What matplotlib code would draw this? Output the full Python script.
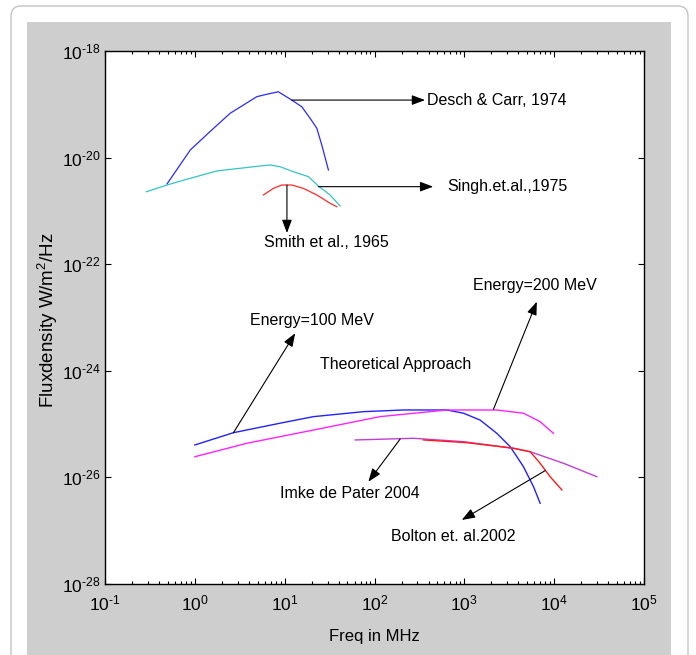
import numpy as np
import matplotlib
matplotlib.use("Agg")
import matplotlib.pyplot as plt
from matplotlib.patches import FancyBboxPatch, Rectangle
from matplotlib.transforms import IdentityTransform
from matplotlib.ticker import FixedLocator, LogLocator, NullLocator, FuncFormatter

plt.rcParams['font.family'] = ['Liberation Sans', 'DejaVu Sans']
plt.rcParams['mathtext.fontset'] = 'custom'
plt.rcParams['mathtext.rm'] = 'Liberation Sans'
plt.rcParams['mathtext.it'] = 'Liberation Sans:italic'
plt.rcParams['mathtext.bf'] = 'Liberation Sans:bold'

# Observed spectra (frequency in MHz, flux density in W/m^2/Hz)
desch_freq = [0.49, 0.89, 1.47, 2.47, 4.9, 6.3, 8.5, 12.0, 15.5, 19.2, 22.8, 25.9, 30.7]
desch_flux = [3.2e-21, 1.39e-20, 3.06e-20, 6.78e-20, 1.39e-19, 1.54e-19, 1.72e-19,
              1.20e-19, 9.0e-20, 5.46e-20, 3.55e-20, 1.72e-20, 5.85e-21]

singh_freq = [0.29, 0.49, 0.89, 1.75, 3.18, 5.3, 6.9, 8.9, 12.5, 18.4, 23.7, 32.0, 41.4]
singh_flux = [2.29e-21, 3.06e-21, 4.09e-21, 5.61e-21, 6.30e-21, 6.95e-21, 7.26e-21,
              6.75e-21, 5.43e-21, 4.39e-21, 2.93e-21, 1.99e-21, 1.24e-21]

smith_freq = [5.8, 7.5, 9.3, 12.0, 16.1, 22.8, 32.0, 38.0]
smith_flux = [1.99e-21, 2.65e-21, 3.06e-21, 3.06e-21, 2.65e-21, 1.99e-21, 1.39e-21, 1.20e-21]

# Theoretical spectra
e100_freq = [1.0, 2.69, 8.9, 20.9, 75, 210, 640, 980, 1500, 2300, 3240, 4550, 5890, 6980]
e100_flux = [4.06e-26, 6.90e-26, 1.04e-25, 1.38e-25, 1.71e-25, 1.84e-25, 1.84e-25,
             1.60e-25, 1.19e-25, 6.71e-26, 3.77e-26, 1.59e-26, 6.70e-27, 3.27e-27]

e200_freq = [1.0, 3.8, 20.9, 115, 640, 2300, 4550, 6980, 9820]
e200_flux = [2.44e-26, 4.37e-26, 7.74e-26, 1.38e-25, 1.84e-25, 1.84e-25, 1.60e-25,
             1.11e-25, 6.71e-26]

pater_freq = [61, 271, 980, 3520, 5410, 12700, 29900]
pater_flux = [5.04e-26, 5.42e-26, 4.68e-26, 3.52e-26, 3.03e-26, 1.84e-26, 1.03e-26]

bolton_freq = [351, 1070, 3520, 5410, 6980, 9020, 12200]
bolton_flux = [5.04e-26, 4.48e-26, 3.52e-26, 3.03e-26, 1.84e-26, 1.03e-26, 5.81e-27]

y_decades = np.arange(-28, -17, 2)

W, H = 696, 655
fig = plt.figure(figsize=(W / 100, H / 100), dpi=100, facecolor='white')

# outer rounded frame and grey panel behind the axes
frame = FancyBboxPatch((11, -20), 677, 669, boxstyle="round,pad=0,rounding_size=10",
                       transform=IdentityTransform(), facecolor='white',
                       edgecolor='#c4c4c4', linewidth=1.0, figure=fig, zorder=-2)
fig.patches.append(frame)
panel = Rectangle((27, 0), 644, H - 22, transform=IdentityTransform(),
                  facecolor='#cecece', edgecolor='none', figure=fig, zorder=-1)
fig.patches.append(panel)

ax = fig.add_axes([105 / W, 1 - 584 / H, (644 - 105) / W, (584 - 51) / H], zorder=1)
ax.set_facecolor('white')
ax.set_xscale('log')
ax.set_yscale('log')
ax.set_xlim(1e-1, 1e5)
ax.set_ylim(1e-28, 1e-18)

ax.plot(desch_freq, desch_flux, color='#2a2aff', lw=0.9)
ax.plot(singh_freq, singh_flux, color='#33c4c4', lw=0.9)
ax.plot(smith_freq, smith_flux, color='#ff2a2a', lw=0.9)
ax.plot(e100_freq, e100_flux, color='#2222ff', lw=1.0)
ax.plot(e200_freq, e200_flux, color='#ff22ff', lw=1.0)
ax.plot(pater_freq, pater_flux, color='#c040d0', lw=1.0)
ax.plot(bolton_freq, bolton_flux, color='#ff1a1a', lw=1.0)


def decade_label(v, pos):
    n = int(round(np.log10(v)))
    sign = '\u2010' if n < 0 else ''
    return '$10^{%s%d}$' % (sign, abs(n))


ax.xaxis.set_major_locator(LogLocator(base=10, numticks=10))
ax.xaxis.set_minor_locator(LogLocator(base=10, subs=np.arange(2, 10), numticks=20))
ax.xaxis.set_major_formatter(FuncFormatter(decade_label))
ax.yaxis.set_major_locator(FixedLocator(10.0 ** y_decades))
ax.yaxis.set_minor_locator(NullLocator())
ax.yaxis.set_major_formatter(FuncFormatter(decade_label))
ax.tick_params(which='both', direction='in', top=True, right=True, width=0.8)
ax.tick_params(which='major', length=4.5, labelsize=12.5)
ax.tick_params(which='minor', length=2.5)
ax.tick_params(axis='x', pad=7)
ax.tick_params(axis='y', pad=3)
for sp in ax.spines.values():
    sp.set_linewidth(1.0)

fig.text(374.5 / W, 1 - 636 / H, 'Freq in MHz', ha='center', va='center', fontsize=12)
fig.text(48 / W, 1 - 320 / H, 'Fluxdensity W/m$^2$/Hz', ha='center', va='center',
         rotation=90, fontsize=13.5)

arrow = dict(arrowstyle='-|>,head_length=0.8,head_width=0.3', color='black',
             lw=0.8, shrinkA=0, shrinkB=0, mutation_scale=10)
tsize = 11.5


def pointer(start, tip):
    ax.annotate('', xy=tip, xytext=start, arrowprops=arrow)


pointer((12.0, 1.2e-19), (365, 1.2e-19))
ax.text(385, 1.2e-19, 'Desch & Carr, 1974', ha='left', va='center', fontsize=tsize)

pointer((23.7, 2.85e-21), (450, 2.85e-21))
ax.text(644, 2.85e-21, 'Singh.et.al.,1975', ha='left', va='center', fontsize=tsize)

pointer((10.6, 3.06e-21), (10.6, 3.85e-22))
ax.text(29.4, 2.53e-22, 'Smith et al., 1965', ha='center', va='center', fontsize=tsize)

pointer((2.69, 6.9e-26), (13.1, 5.06e-24))
ax.text(4.12, 8.97e-24, 'Energy=100 MeV', ha='left', va='center', fontsize=tsize)

pointer((2110, 1.9e-25), (6410, 1.98e-23))
ax.text(1245, 4.07e-23, 'Energy=200 MeV', ha='left', va='center', fontsize=tsize)

ax.text(24.8, 1.29e-24, 'Theoretical Approach', ha='left', va='center', fontsize=tsize)

pointer((193, 5.25e-26), (85.5, 8.3e-27))
ax.text(8.89, 5.09e-27, 'Imke de Pater 2004', ha='left', va='center', fontsize=tsize)

pointer((7940, 1.34e-26), (937, 1.59e-27))
ax.text(152, 7.73e-28, 'Bolton et. al.2002', ha='left', va='center', fontsize=tsize)

fig.savefig('out.png', dpi=100, facecolor='white')
